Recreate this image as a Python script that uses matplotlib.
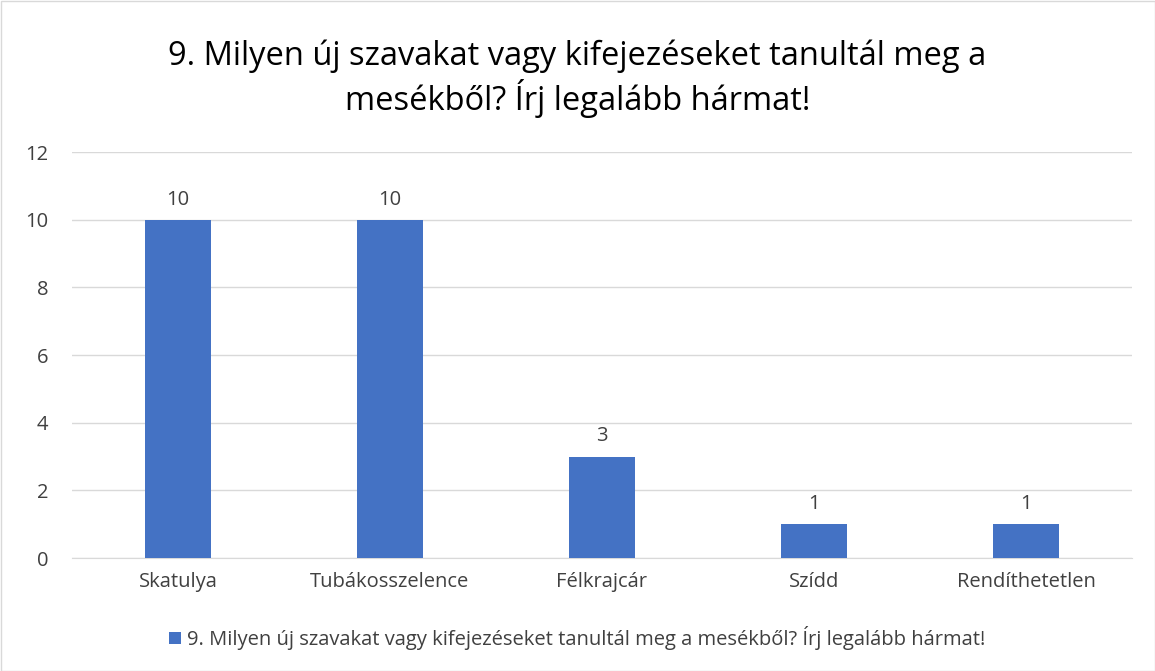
import matplotlib.pyplot as plt
from matplotlib.patches import Rectangle

categories = ["Skatulya", "Tubákosszelence", "Félkrajcár", "Szídd", "Rendíthetetlen"]
values = [10, 10, 3, 1, 1]
title = "9. Milyen új szavakat vagy kifejezéseket tanultál meg a\nmesékből? Írj legalább hármat!"
series_name = "9. Milyen új szavakat vagy kifejezéseket tanultál meg a mesékből? Írj legalább hármat!"

plt.rcParams['font.family'] = ['Open Sans', 'DejaVu Sans']
bar_color = '#4472C4'
text_color = '#404040'

fig = plt.figure(figsize=(11.55, 6.71), dpi=100)
ax = fig.add_axes([72 / 1155, 1 - 558 / 671, (1132 - 72) / 1155, (558 - 152) / 671])

x = list(range(len(categories)))
bars = ax.bar(x, values, width=0.31, color=bar_color, label=series_name, zorder=3)
for b, v in zip(bars, values):
    ax.text(b.get_x() + b.get_width() / 2, v + 0.3, str(v), ha='center', va='bottom',
            fontsize=14.5, color=text_color)

ax.set_xlim(-0.5, len(categories) - 0.5)
ax.set_ylim(0, 12)
ax.set_yticks(range(0, 13, 2))
ax.set_xticks(x)
ax.set_xticklabels(categories)
ax.tick_params(axis='both', length=0, labelsize=14.5, labelcolor=text_color)
ax.tick_params(axis='x', pad=10)
ax.tick_params(axis='y', pad=17)
ax.grid(axis='y', color='#D9D9D9', linewidth=1, zorder=0)
for s in ['top', 'right', 'left']:
    ax.spines[s].set_visible(False)
ax.spines['bottom'].set_color('#D9D9D9')

fig.text(0.5, 1 - 79 / 671, title, ha='center', va='center', fontsize=23.5,
         color='black', linespacing=1.2)

fig.legend(handles=[bars], labels=[series_name], loc='center', bbox_to_anchor=(0.5, 1 - 638 / 671),
           frameon=False, fontsize=14.5, handlelength=0.6, handleheight=0.6, handletextpad=0.3,
           labelcolor=text_color)

fig.patches.append(Rectangle((0.5 / 1155, 0.5 / 671), 1 - 1 / 1155, 1 - 1 / 671,
                             transform=fig.transFigure, fill=False, edgecolor='#D9D9D9', linewidth=1))

fig.savefig('out.png', dpi=100)
